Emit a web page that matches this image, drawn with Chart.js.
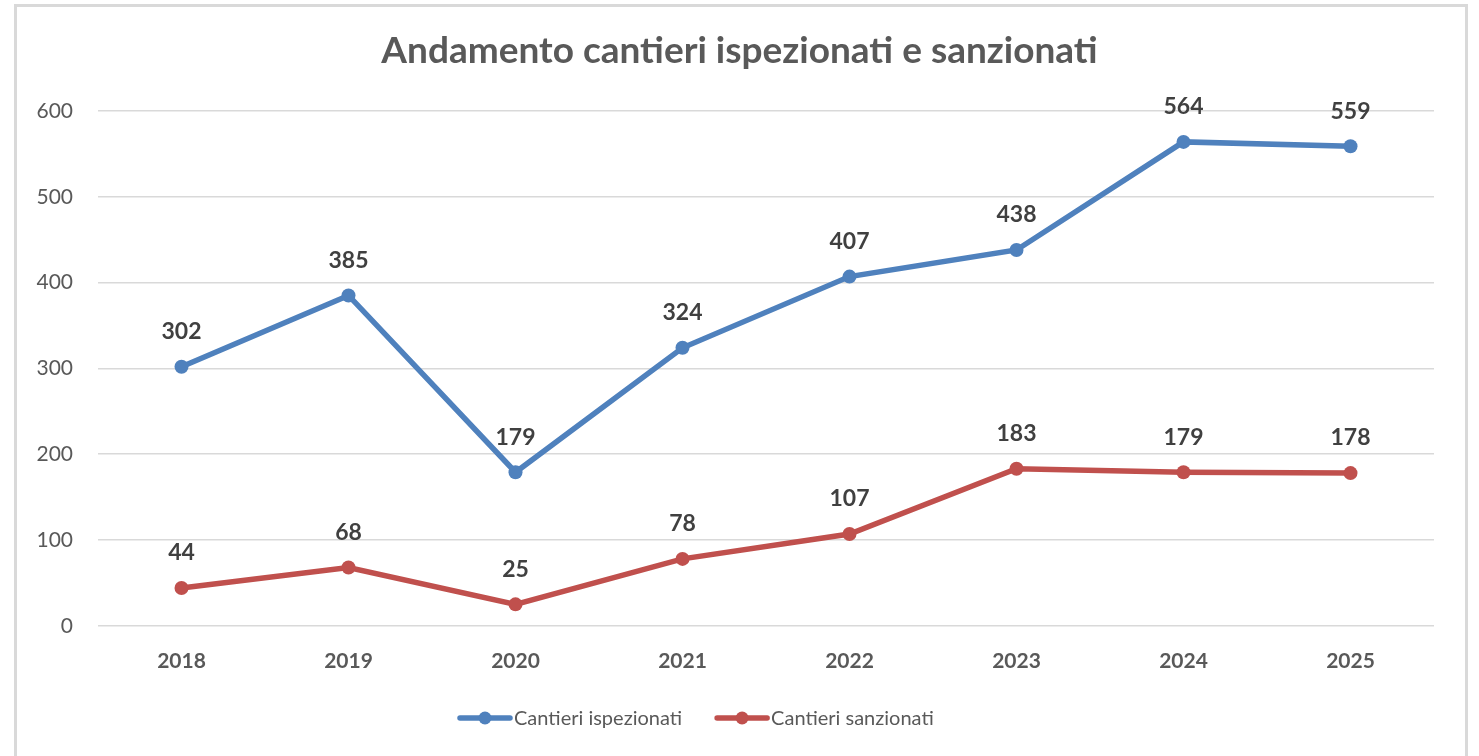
<!DOCTYPE html>
<html>
<head>
<meta charset="utf-8">
<script src="https://cdn.jsdelivr.net/npm/chart.js@4.4.1/dist/chart.umd.min.js"></script>
<style>
  html, body { margin: 0; padding: 0; background: #fff; overflow: hidden; }
  #frame { position: absolute; left: 14px; top: 4px; width: 1448px; height: 760px;
           border: 3px solid #d9d9d9; border-bottom: none; pointer-events: none; }
  #wrap { position: absolute; left: 0; top: 0; width: 1479px; height: 756px; }
</style>
</head>
<body>
<div id="wrap"><canvas id="c" width="1479" height="756"></canvas></div>
<div id="frame"></div>
<script>
const categories = ['2018', '2019', '2020', '2021', '2022', '2023', '2024', '2025'];
const ispezionati = [302, 385, 179, 324, 407, 438, 564, 559];
const sanzionati = [44, 68, 25, 78, 107, 183, 179, 178];
const seriesNames = ['Cantieri ispezionati', 'Cantieri sanzionati'];
const yTicks = [0, 100, 200, 300, 400, 500, 600];
const titleText = 'Andamento cantieri ispezionati e sanzionati';

const BLUE = '#4f81bd';
const RED = '#c0504d';
const FONT = 'Lato, "Open Sans", sans-serif';

const customTitle = {
  id: 'customTitle',
  afterDraw(chart) {
    const ctx = chart.ctx;
    ctx.save();
    ctx.font = 'bold 37px ' + FONT;
    ctx.fillStyle = '#595959';
    ctx.textAlign = 'center';
    ctx.textBaseline = 'middle';
    ctx.fillText(titleText, chart.width / 2, 51);
    ctx.restore();
  }
};

const dataLabels = {
  id: 'dataLabels',
  afterDatasetsDraw(chart) {
    const ctx = chart.ctx;
    ctx.save();
    ctx.font = 'bold 23px ' + FONT;
    ctx.fillStyle = '#404040';
    ctx.textAlign = 'center';
    ctx.textBaseline = 'middle';
    chart.data.datasets.forEach((ds, di) => {
      const meta = chart.getDatasetMeta(di);
      meta.data.forEach((pt, i) => {
        ctx.fillText(String(ds.data[i]), pt.x, pt.y - 35);
      });
    });
    ctx.restore();
  }
};

const customLegend = {
  id: 'customLegend',
  afterDraw(chart) {
    const ctx = chart.ctx;
    ctx.save();
    ctx.font = '20px ' + FONT;
    ctx.textBaseline = 'middle';
    ctx.textAlign = 'left';
    const y = 718;
    const lineLen = 50, gap = 4, itemGap = 35;
    let x = 460;
    chart.data.datasets.forEach((ds, i) => {
      if (i) x += itemGap;
      ctx.strokeStyle = ds.borderColor;
      ctx.lineWidth = 5.5;
      ctx.lineCap = 'round';
      ctx.beginPath();
      ctx.moveTo(x, y);
      ctx.lineTo(x + lineLen, y);
      ctx.stroke();
      ctx.fillStyle = ds.borderColor;
      ctx.beginPath();
      ctx.arc(x + lineLen / 2, y, 6.5, 0, Math.PI * 2);
      ctx.fill();
      ctx.fillStyle = '#595959';
      ctx.fillText(ds.label, x + lineLen + gap, y + 1);
      x += lineLen + gap + ctx.measureText(ds.label).width;
    });
    ctx.restore();
  }
};

new Chart(document.getElementById('c'), {
  type: 'line',
  data: {
    labels: categories,
    datasets: [
      { label: seriesNames[0], data: ispezionati, borderColor: BLUE, backgroundColor: BLUE,
        borderWidth: 5.5, pointRadius: 7, pointHoverRadius: 7, pointBorderWidth: 0, tension: 0 },
      { label: seriesNames[1], data: sanzionati, borderColor: RED, backgroundColor: RED,
        borderWidth: 5.5, pointRadius: 7, pointHoverRadius: 7, pointBorderWidth: 0, tension: 0 }
    ]
  },
  options: {
    responsive: false,
    animation: false,
    events: [],
    layout: { padding: { left: 0, right: 45, top: 111, bottom: 59 } },
    plugins: {
      legend: { display: false },
      tooltip: { enabled: false },
      title: { display: false }
    },
    scales: {
      x: {
        offset: true,
        grid: { display: false, drawTicks: false },
        border: { display: false },
        ticks: { color: '#595959', font: { family: FONT, size: 21, weight: 'bold' }, padding: 23 }
      },
      y: {
        min: 0, max: 600,
        afterBuildTicks(scale) { scale.ticks = yTicks.map(v => ({ value: v })); },
        afterFit(scale) { scale.width = 98; },
        grid: { color: '#d9d9d9', lineWidth: 1.5, drawTicks: false },
        border: { display: false },
        ticks: { color: '#595959', font: { family: FONT, size: 21 }, padding: 25 }
      }
    }
  },
  plugins: [customTitle, dataLabels, customLegend]
});
</script>
</body>
</html>
